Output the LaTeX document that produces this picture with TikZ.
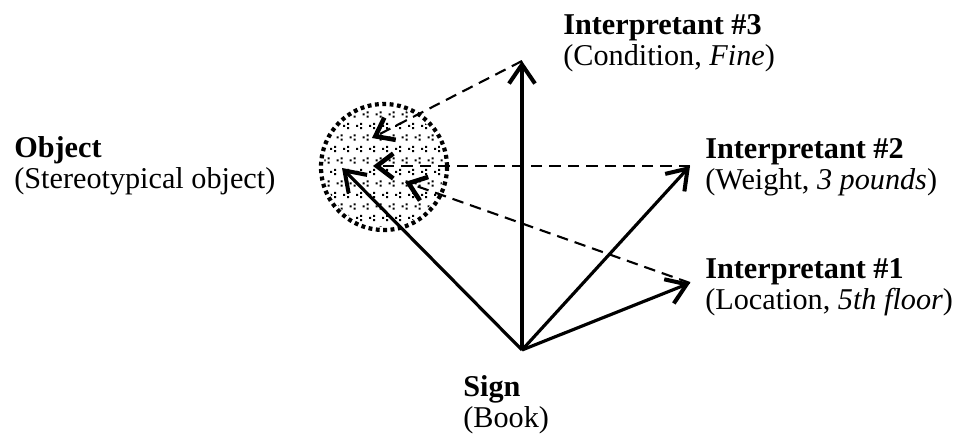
\documentclass[tikz,border=0pt]{standalone}
\usepackage{fontspec}
\setmainfont{Liberation Serif}
\usepackage{tikz}
\usetikzlibrary{positioning,arrows.meta,calc}

\begin{document}
\begin{tikzpicture}[
  x=0.02cm, y=-0.02cm,
  every node/.style={font=\fontsize{17.2}{17.6}\selectfont, inner sep=0pt},
  title/.style ={anchor=base west, font=\fontsize{17.2}{17.6}\selectfont\bfseries},
  desc/.style  ={anchor=base west},
  main/.style  ={line width=1.8pt,
                 -{Straight Barb[length=3.8mm,width=5.2mm,line width=2.3pt]}},
  link/.style  ={line width=1.2pt, dash pattern=on 2.3mm off 1.4mm,
                 -{Straight Barb[length=3.3mm,width=5mm,line width=2.6pt]}},
  objring/.style={circle, minimum size=2.52cm,
                 line width=2.4pt, dash pattern=on 2.2pt off 2pt}
]
\useasboundingbox (0,0) rectangle (960,438);

%% ---- Object circle with its texture ---------------------------
\node[objring] (ring) at (384,167) {};
\begin{scope}
  \clip (384,167) circle (60);
  \foreach \j in {0,...,11}{
    \foreach \i in {0,...,10}{
      \pgfmathsetmacro{\px}{318+\i*13+mod(\j,2)*6.5}
      \pgfmathsetmacro{\py}{103+\j*11.5}
      \fill (\px+3.2,\py-3.2) rectangle ++(2,2)
            (\px-1,\py-1) rectangle ++(2,2)
            (\px+3.2,\py+3.2) rectangle ++(2,-2);
    }
  }
\end{scope}
\draw[objring] (ring.center) circle (63);

%% ---- End points ------------------------------------------------
\coordinate (sign) at (522,350);
\coordinate (tip3) at (522,61);
\coordinate (tip2) at (690,166);
\coordinate (tip1) at (690,283);
\coordinate (tipo) at (342,168);
\coordinate (hit3) at (372,138);
\coordinate (hit2) at (373,166);
\coordinate (hit1) at (405,182);

%% ---- Labels ----------------------------------------------------
\node[title] (int3) at (563,35) {Interpretant \#3};
\node[desc]  (int3d) at ($(int3.base west)+(0,31)$) {(Condition, \textit{Fine})};
\node[title] (int2) at (705,159) {Interpretant \#2};
\node[desc]  (int2d) at ($(int2.base west)+(0,31)$) {(Weight, \textit{3 pounds})};
\node[title] (int1) at (705,279) {Interpretant \#1};
\node[desc]  (int1d) at ($(int1.base west)+(0,31)$) {(Location, \textit{5th floor})};
\node[title] (obj) at (14,158) {Object};
\node[desc]  (objd) at ($(obj.base west)+(0,31)$) {(Stereotypical object)};
\node[title] (sgn) at (463,397) {Sign};
\node[desc]  (sgnd) at ($(sgn.base west)+(0,31)$) {(Book)};

%% ---- Dashed links back to the object ---------------------------
\draw[link] (tip3) -- (hit3);
\draw[link] (tip2) -- (hit2);
\draw[link] (tip1) -- (hit1);

%% ---- Sign arrows -----------------------------------------------
\draw[main] (sign) -- (tip3);
\draw[main] (sign) -- (tip2);
\draw[main] (sign) -- (tip1);
\draw[main] (sign) -- (tipo);

\end{tikzpicture}
\end{document}
